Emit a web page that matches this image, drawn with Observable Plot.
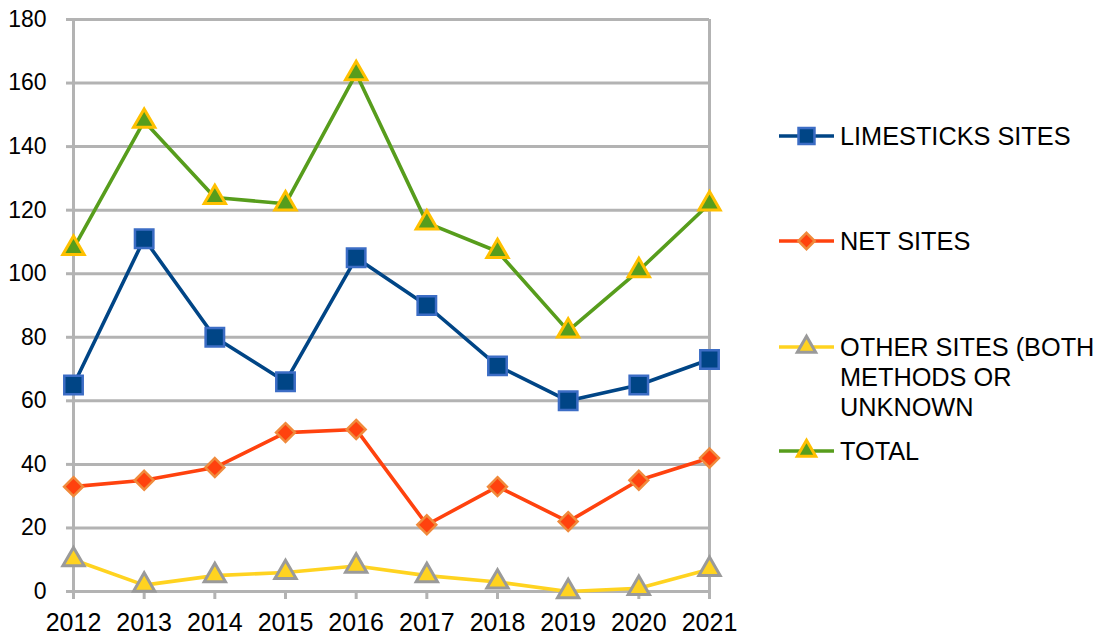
<!DOCTYPE html>
<html><head><meta charset="utf-8">
<script src="https://cdn.jsdelivr.net/npm/d3@7"></script>
<script src="https://cdn.jsdelivr.net/npm/@observablehq/plot@0.6"></script>
<style>
body{margin:0;background:#fff;font-family:"Liberation Sans",Arial,sans-serif;}
#wrap{position:relative;width:1097px;height:639px;overflow:hidden;}
#chart svg{display:block;}
.item{position:absolute;left:779px;display:flex;align-items:flex-start;font-size:25.3px;line-height:30px;color:#000;white-space:nowrap;}
.item svg{flex:none;margin-right:6px;}
</style></head><body>
<div id="wrap"><div id="chart"></div></div>
<script>
const years = [2012, 2013, 2014, 2015, 2016, 2017, 2018, 2019, 2020, 2021];
const limesticksSites = [65, 111, 80, 66, 105, 90, 71, 60, 65, 73];
const netSites = [33, 35, 39, 50, 51, 21, 33, 22, 35, 42];
const otherSites = [10, 2, 5, 6, 8, 5, 3, 0, 1, 7];
const totalSites = [108, 148, 124, 122, 163, 116, 107, 82, 101, 122];
const yTicks = [0, 20, 40, 60, 80, 100, 120, 140, 160, 180];
const seriesNames = ["LIMESTICKS SITES", "NET SITES", "OTHER SITES (BOTH METHODS OR UNKNOWN", "TOTAL"];
const legendLines = [["LIMESTICKS SITES"], ["NET SITES"], ["OTHER SITES (BOTH", "METHODS OR", "UNKNOWN"], ["TOTAL"]];

const styles = [
  {values: limesticksSites, line: "#004586", symbol: "square", r: 10.4, fill: "#004586", stroke: "#3c6dc5", sw: 2.5},
  {values: netSites, line: "#ff420e", symbol: "diamond2", r: 8.5, fill: "#ff420e", stroke: "#f08a3c", sw: 2.5},
  {values: otherSites, line: "#ffd320", symbol: "triangle", r: 7.9, fill: "#ffd320", stroke: "#9a9a9a", sw: 3},
  {values: totalSites, line: "#579d1c", symbol: "triangle", r: 7.9, fill: "#579d1c", stroke: "#ffc000", sw: 3}
];

const tables = styles.map((s, i) => years.map((year, j) => ({year, value: s.values[j], series: seriesNames[i]})));

const grid = "#b3b3b3";
const marks = [
  Plot.gridY(yTicks, {stroke: grid, strokeOpacity: 1, strokeWidth: 3}),
  Plot.ruleX([years[0], years[years.length - 1]], {stroke: grid, strokeWidth: 3}),
  Plot.axisY({ticks: yTicks, tickSize: 7, tickPadding: 20, stroke: grid, strokeWidth: 3, fill: "#000", fontSize: 23, label: null}),
  Plot.axisX({ticks: years, tickFormat: d => String(d), tickSize: 8, tickPadding: 14, stroke: grid, strokeWidth: 3, fill: "#000", fontSize: 25, label: null})
];
styles.forEach((s, i) => {
  marks.push(Plot.line(tables[i], {x: "year", y: "value", stroke: s.line, strokeWidth: 3.6}));
  marks.push(Plot.dot(tables[i], {x: "year", y: "value", symbol: s.symbol, r: s.r, fill: s.fill, stroke: s.stroke, strokeWidth: s.sw}));
});

const chart = Plot.plot({
  width: 1097, height: 639,
  marginLeft: 73, marginRight: 388, marginTop: 19, marginBottom: 48,
  style: {fontFamily: '"Liberation Sans", Arial, sans-serif', background: "#fff", overflow: "visible"},
  x: {type: "linear", domain: [years[0], years[years.length - 1]]},
  y: {domain: [yTicks[0], yTicks[yTicks.length - 1]]},
  marks
});
document.getElementById("chart").appendChild(chart);

// Legend
const wrap = document.getElementById("wrap");
const legendTops = [121, 226, 332, 436];
const symMap = {square: d3.symbolSquare, diamond2: d3.symbolDiamond2, triangle: d3.symbolTriangle};
styles.forEach((s, i) => {
  const item = document.createElement("div");
  item.className = "item";
  item.style.top = legendTops[i] + "px";
  const ns = "http://www.w3.org/2000/svg";
  const sv = document.createElementNS(ns, "svg");
  sv.setAttribute("width", 55); sv.setAttribute("height", 30);
  const ln = document.createElementNS(ns, "line");
  ln.setAttribute("x1", 0); ln.setAttribute("x2", 55); ln.setAttribute("y1", 15); ln.setAttribute("y2", 15);
  ln.setAttribute("stroke", s.line); ln.setAttribute("stroke-width", 3.6);
  sv.appendChild(ln);
  const p = document.createElementNS(ns, "path");
  p.setAttribute("d", d3.symbol(symMap[s.symbol], Math.PI * s.r * s.r * 0.75)());
  p.setAttribute("transform", "translate(27.5,15)");
  p.setAttribute("fill", s.fill); p.setAttribute("stroke", s.stroke); p.setAttribute("stroke-width", s.sw);
  sv.appendChild(p);
  item.appendChild(sv);
  const t = document.createElement("div");
  t.innerHTML = legendLines[i].join("<br>");
  item.appendChild(t);
  wrap.appendChild(item);
});
</script>
</body></html>
